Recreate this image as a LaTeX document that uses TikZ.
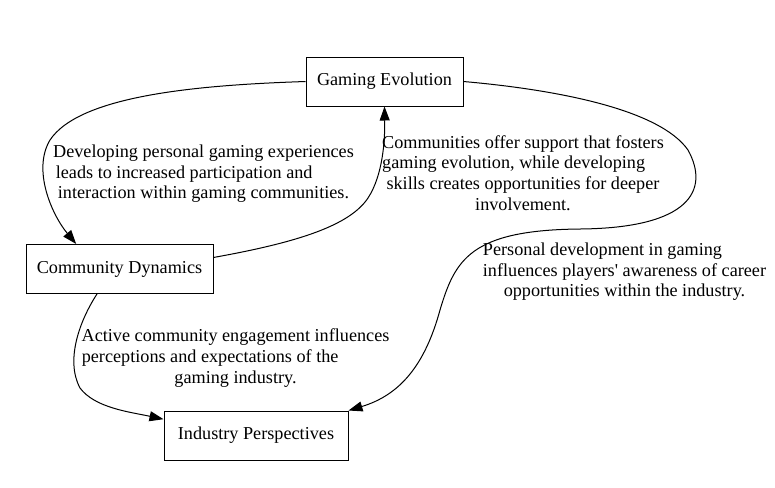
\documentclass[tikz,border=0pt]{standalone}
\usepackage{fontspec}
\setmainfont{Liberation Serif}
\usepackage{tikz}
\usetikzlibrary{arrows.meta,positioning}
\newcommand{\txtsize}{\fontsize{13.65}{15.45}\selectfont}
\newcommand{\padr}[1]{\rule{#1}{0pt}}
\tikzset{
  topic/.style={draw, line width=0.75pt, minimum height=36.75pt, inner sep=0pt, font=\txtsize},
  note/.style={align=center, inner sep=0pt, font=\txtsize},
  link/.style={-{Triangle[length=10.5pt, width=7.5pt]}, line width=0.75pt},
}

\begin{document}
\begin{tikzpicture}[x=0.75pt,y=-0.75pt]
\useasboundingbox (0,0) rectangle (775,487);
\node[topic, minimum width=117.75pt] (evo) at (384.5,81.5) {Gaming Evolution};
\node[topic, minimum width=140.25pt] (comm) at (119.5,269) {Community Dynamics};
\node[topic, minimum width=138pt] (ind) at (256,435.5) {Industry Perspectives};
\draw[link] (evo.west) .. controls (200,85) and (80,95) .. (50,140)
  .. controls (32,170) and (52,215) .. (comm.150);
\draw[link] (comm.7) .. controls (300,242) and (350,225) .. (368,198)
  .. controls (383,175) and (385,140) .. (evo.south);
\draw[link] (evo.east) .. controls (560,90) and (660,110) .. (688,150)
  .. controls (710,190) and (690,228) .. (580,229)
  .. controls (470,230) and (455,260) .. (440,310)
  .. controls (425,365) and (400,395) .. (ind.north east);
\draw[link] (comm.228) .. controls (80,320) and (65,360) .. (80,388)
  .. controls (95,408) and (130,412) .. (ind.170);
\node[note] (devnote) at (203.5,174) {Developing personal gaming experiences\\leads to increased participation and\padr{29pt}\\interaction within gaming communities.};
\node[note] (supnote) at (523,173) {Communities offer support that fosters\\gaming evolution, while developing\padr{14pt}\\skills creates opportunities for deeper\\involvement.};
\node[note] (carnote) at (624.5,272) {Personal development in gaming\padr{33pt}\\influences players\textquotesingle\ awareness of career\\opportunities within the industry.};
\node[note] (engnote) at (235.5,358) {Active community engagement influences\\perceptions and expectations of the\padr{38pt}\\gaming industry.};
\end{tikzpicture}
\end{document}
